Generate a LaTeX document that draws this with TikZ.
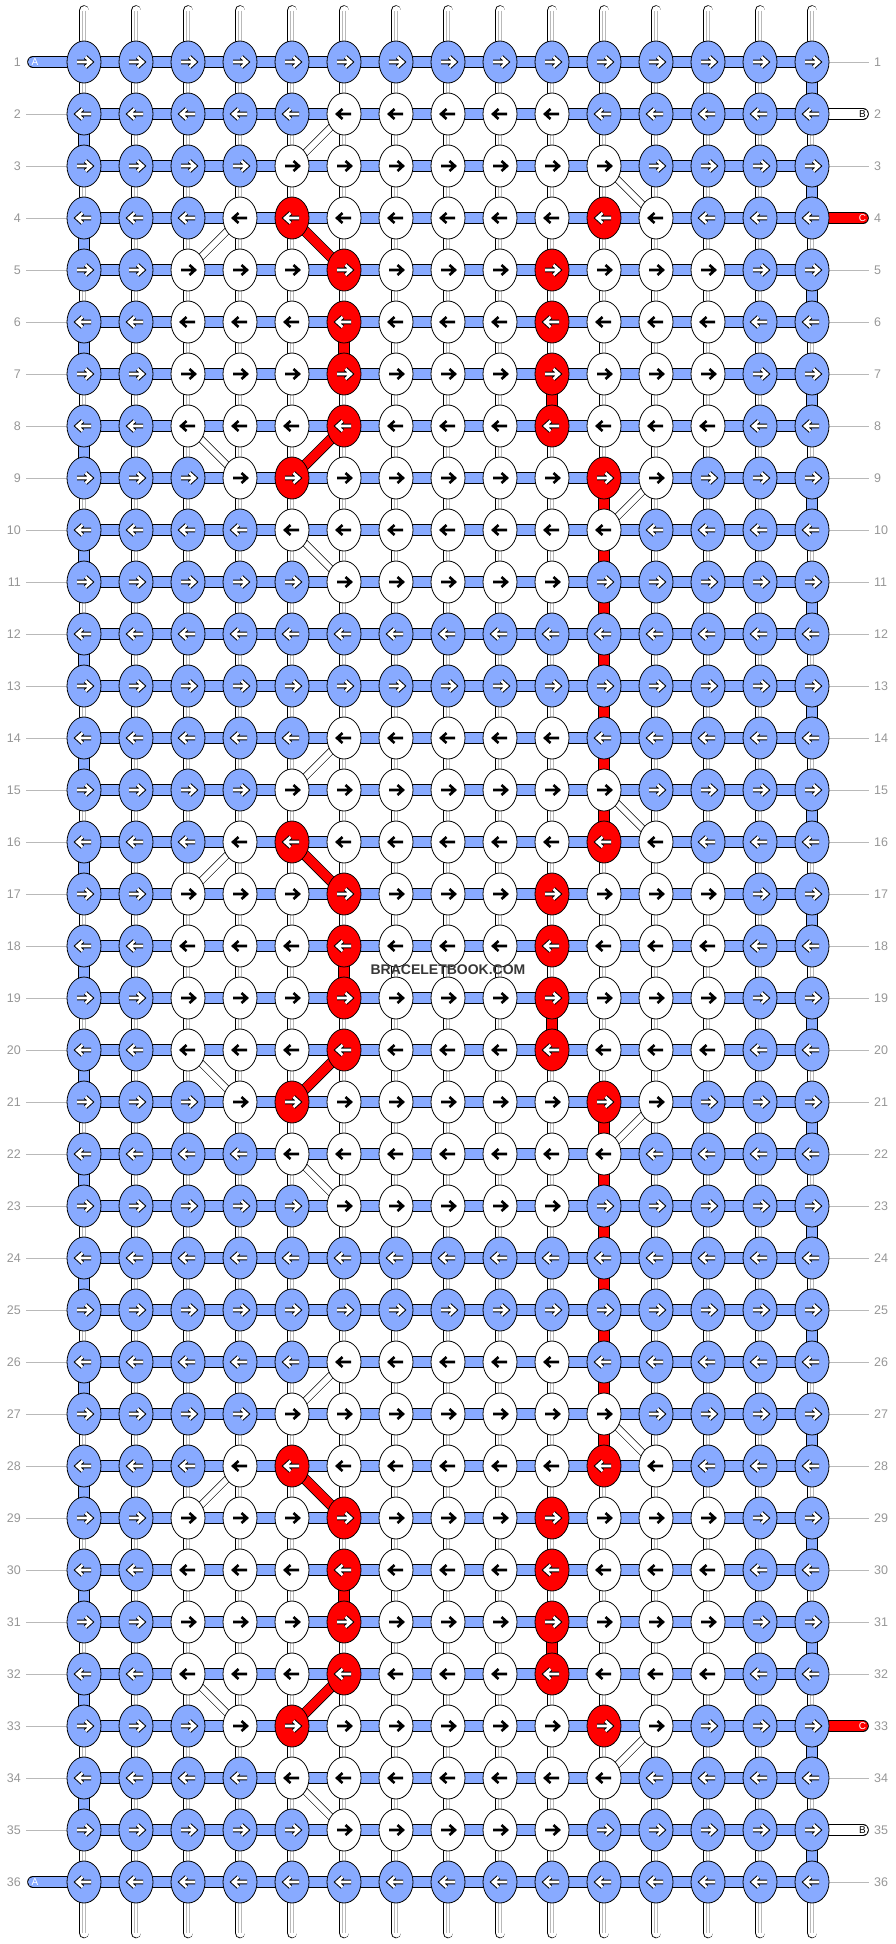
\documentclass[tikz,border=0pt]{standalone}
\usepackage{fontspec}
\setmainfont{Liberation Sans}
\usepackage{tikz}
\usetikzlibrary{shapes}
\usetikzlibrary{backgrounds}
\usetikzlibrary{calc}

\definecolor{knotblue}{RGB}{136,170,255}
\definecolor{knotred}{RGB}{255,0,0}
\definecolor{rowgray}{RGB}{150,150,150}
\definecolor{linegray}{RGB}{185,185,185}
\definecolor{warpgray}{RGB}{185,185,185}
\definecolor{brandgray}{RGB}{55,55,55}
\colorlet{knotb}{knotblue}
\colorlet{knotw}{white}
\colorlet{knotr}{knotred}
\colorlet{tipb}{white}
\colorlet{tipw}{black}
\colorlet{tipr}{white}
\colorlet{rimb}{black}
\colorlet{rimw}{white}
\colorlet{rimr}{black}

\begin{document}
\begin{tikzpicture}[x=1pt,y=-1pt]

	\tikzstyle{knot} = [ellipse, draw, line width=0.8pt, minimum width=34pt, minimum height=42pt, inner sep=0pt]
	\tikzstyle{warp} = [line width=0.8pt, double=white, double distance=9pt, line cap=round]
	\tikzstyle{warpline} = [draw=warpgray, line width=0.6pt, double=white, double distance=2.6pt]
	\tikzstyle{band} = [line width=0.8pt, double distance=10pt]
	\tikzstyle{thread} = [band, line cap=round]
	\tikzstyle{bthread} = [line width=0.6pt, double=white, double distance=6pt]
	\tikzstyle{cthread} = [line width=0.8pt, double=knotred, double distance=9pt]
	\tikzstyle{rowno} = [text=rowgray, font=\fontsize{12.5}{12.5}\selectfont, inner xsep=5pt, inner ysep=1pt]
	\tikzstyle{tag} = [font=\fontsize{10}{10}\selectfont, inner sep=0pt]
	\tikzstyle{brand} = [text=brandgray, font=\bfseries\fontsize{14}{14}\selectfont, inner sep=0pt]

	\useasboundingbox (0,0) rectangle (896,1944);

	\foreach \r in {1,...,36}
		\foreach \c in {1,...,15}
			\coordinate (p-\r-\c) at ({84+52*(\c-1)},{62+52*(\r-1)});

	\foreach \r in {1,...,36} {
		\node[rowno, anchor=east] (ln-\r) at (26,{62+52*(\r-1)}) {\r};
		\node[rowno, anchor=west] (rn-\r) at (869,{62+52*(\r-1)}) {\r};
		\draw[linegray] (p-\r-15) -- (rn-\r);
	}
	\foreach \r in {2,...,35}
		\draw[linegray] (ln-\r) -- (p-\r-1);

	\foreach \c in {1,...,15} {
		\coordinate (top-\c) at ({84+52*(\c-1)},10.5);
		\coordinate (bot-\c) at ({84+52*(\c-1)},1933);
		\draw[warp] (top-\c) -- (bot-\c);
		\draw[warpline] (top-\c) -- (bot-\c);
	}

	\foreach \r [evaluate=\r as \s using int(\r+1)] in {2,4,...,34}
		\draw[band, double=knotblue] (p-\r-1) -- (p-\s-1);
	\foreach \r [evaluate=\r as \s using int(\r+1)] in {1,3,...,35}
		\draw[band, double=knotblue] (p-\r-15) -- (p-\s-15);
	\foreach \r/\c in {6/6, 18/6, 30/6, 7/10, 19/10, 31/10} {
		\pgfmathtruncatemacro{\s}{\r+1}
		\draw[band, double=knotred] (p-\r-\c) -- (p-\s-\c);
	}
	\foreach \o in {0,12}
		\foreach \r in {9,...,15} {
			\pgfmathtruncatemacro{\ra}{\r+\o}
			\pgfmathtruncatemacro{\rb}{\r+\o+1}
			\draw[band, double=knotred] (p-\ra-11) -- (p-\rb-11);
		}

	\foreach \r in {1,...,36}
		\draw[band, double=knotblue] (p-\r-1) -- (p-\r-15);

	\coordinate (endA-1) at (33,62);
	\coordinate (endA-36) at (33,1882);
	\coordinate (endB-2) at (863,114);
	\coordinate (endC-4) at (863,218);
	\coordinate (endC-33) at (863,1726);
	\coordinate (endB-35) at (863,1830);
	\draw[thread, double=knotblue] (endA-1) -- (p-1-1);
	\draw[thread, double=knotblue] (endA-36) -- (p-36-1);
	\draw[thread, double=white] (p-2-15) -- (endB-2);
	\draw[thread, double=knotred] (p-4-15) -- (endC-4);
	\draw[thread, double=knotred] (p-33-15) -- (endC-33);
	\draw[thread, double=white] (p-35-15) -- (endB-35);
	\node[tag, text=white] (tagA-1) at (35,62) {A};
	\node[tag, text=white] (tagA-36) at (35,1882) {A};
	\node[tag] (tagB-2) at (862.5,114) {B};
	\node[tag, text=white] (tagC-4) at (862.5,218) {C};
	\node[tag, text=white] (tagC-33) at (862.5,1726) {C};
	\node[tag] (tagB-35) at (862.5,1830) {B};

	\foreach \o in {0,12,24} {
		\foreach \a/\ca/\cb in {2/6/5, 3/11/12, 4/4/3, 8/3/4, 9/12/11, 10/5/6} {
			\pgfmathtruncatemacro{\ra}{\a+\o}
			\pgfmathtruncatemacro{\rb}{\a+\o+1}
			\draw[bthread] (p-\ra-\ca) -- (p-\rb-\cb);
		}
		\foreach \a/\ca/\cb in {4/5/6, 8/6/5} {
			\pgfmathtruncatemacro{\ra}{\a+\o}
			\pgfmathtruncatemacro{\rb}{\a+\o+1}
			\draw[cthread] (p-\ra-\ca) -- (p-\rb-\cb);
		}
	}

	\foreach \o in {-12,0,12,24}
		\foreach \k/\pat in {0/{b,b,b,b,b,w,w,w,w,w,b,b,b,b,b},
				1/{b,b,b,b,w,w,w,w,w,w,w,b,b,b,b},
				2/{b,b,b,w,r,w,w,w,w,w,r,w,b,b,b},
				3/{b,b,w,w,w,r,w,w,w,r,w,w,w,b,b},
				4/{b,b,w,w,w,r,w,w,w,r,w,w,w,b,b},
				5/{b,b,w,w,w,r,w,w,w,r,w,w,w,b,b},
				6/{b,b,w,w,w,r,w,w,w,r,w,w,w,b,b},
				7/{b,b,b,w,r,w,w,w,w,w,r,w,b,b,b},
				8/{b,b,b,b,w,w,w,w,w,w,w,b,b,b,b},
				9/{b,b,b,b,b,w,w,w,w,w,b,b,b,b,b},
				10/{b,b,b,b,b,b,b,b,b,b,b,b,b,b,b},
				11/{b,b,b,b,b,b,b,b,b,b,b,b,b,b,b}} {
			\pgfmathtruncatemacro{\r}{\k+\o+2}
			\pgfmathtruncatemacro{\dir}{1-2*mod(\r+1,2)}
			\ifnum\r>0 \ifnum\r<37
				\foreach \kc [count=\c] in \pat {
					\node[knot, fill=knot\kc] (k-\r-\c) at (p-\r-\c) {};
					\draw[draw=tip\kc, line width=2.6pt, preaction={draw=rim\kc, line width=4.6pt}, shift={(p-\r-\c)}, xscale=\dir]
						(-7,0) -- (6,0) (1.5,-5) -- (7,0) -- (1.5,5);
				}
			\fi\fi
		}

	\node[brand] (brand) at (448,970) {BRACELETBOOK.COM};
\end{tikzpicture}
\end{document}
